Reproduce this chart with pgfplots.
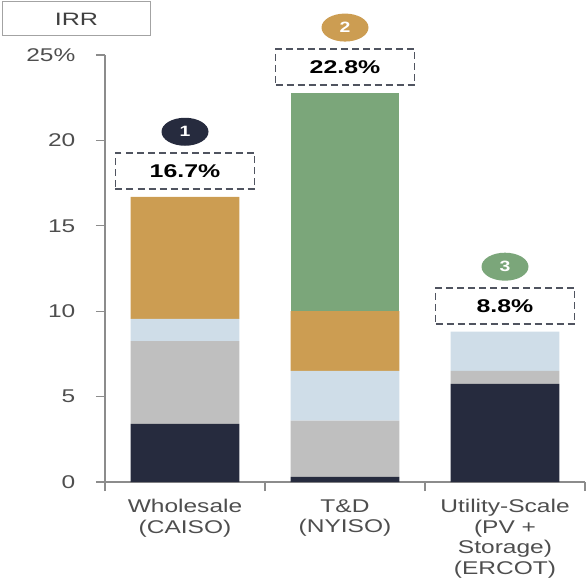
\documentclass[border=0pt]{standalone}
\usepackage{fontspec}
\setmainfont{Liberation Sans}
\usepackage{pgfplots}
\pgfplotsset{compat=1.18}
\usetikzlibrary{shapes.geometric}
\definecolor{cnavy}{HTML}{262B3E}
\definecolor{cgray}{HTML}{BFBFBF}
\definecolor{cblue}{HTML}{CFDDE8}
\definecolor{corange}{HTML}{CC9D52}
\definecolor{cgreen}{HTML}{7BA67A}
\definecolor{axiscol}{HTML}{8C8C8C}
\definecolor{labcol}{HTML}{4E4E4E}
\definecolor{dashcol}{HTML}{505460}
\pgfplotstableread{
x dark gray lblue orange green
0 3.40 4.85 1.30 7.15 0.0
1 0.30 3.30 2.90 3.50 12.8
2 5.75 0.75 2.30 0.00 0.0
}\irrdata
\begin{document}
\begin{tikzpicture}[x=1bp,y=1bp]
\useasboundingbox (-105,-100) rectangle (482,482);
\begin{axis}[
  at={(0,0)}, anchor=south west,
  scale only axis, width=480bp, height=427bp,
  ybar stacked, bar width=0.68,
  xmin=-0.5, xmax=2.5, ymin=0, ymax=25,
  axis x line*=bottom, axis y line*=left,
  axis line style={draw=axiscol, line width=1.2bp},
  ytick={0,5,10,15,20,25}, yticklabels={0,5,10,15,20,25\%},
  ytick style={draw=axiscol, line width=1.2bp},
  tick align=outside, major tick length=9bp,
  yticklabel style={font=\fontsize{18.5}{20}\selectfont, text=labcol, xscale=1.33, anchor=east, xshift=-12bp},
  xtick={-0.5,0.5,1.5,2.5}, xticklabels={},
  xtick style={draw=axiscol, line width=1.2bp},
  extra x ticks={0,1,2},
  extra x tick labels={{Wholesale\\(CAISO)},{T\&D\\(NYISO)},{Utility-Scale\\(PV +\\Storage)\\(ERCOT)}},
  extra x tick style={major tick length=0pt, xticklabel style={align=center, font=\fontsize{18.5}{20.5}\selectfont, text=labcol, xscale=1.33, anchor=north, yshift=-14bp}},
  clip=false,
  every axis plot/.append style={draw=none},
]
\addplot[fill=cnavy] table[x=x,y=dark]{\irrdata};
\addplot[fill=cgray] table[x=x,y=gray]{\irrdata};
\addplot[fill=cblue] table[x=x,y=lblue]{\irrdata};
\addplot[fill=corange] table[x=x,y=orange]{\irrdata};
\addplot[fill=cgreen] table[x=x,y=green]{\irrdata};

\tikzset{pbox/.style={draw=dashcol, dash pattern=on 7bp off 4bp, line width=1.5bp, minimum width=139bp, minimum height=36bp, inner sep=0pt, anchor=south, fill=white},
  bub/.style={ellipse, minimum width=47bp, minimum height=28bp, inner sep=0pt, text=white, font=\bfseries\fontsize{15}{15}\selectfont}}
\node[pbox, yshift=7bp] at (axis cs:0,16.7) {\scalebox{1.35}[1]{\fontsize{18.5}{18.5}\selectfont\bfseries 16.7\%}};
\node[pbox, yshift=7bp] at (axis cs:1,22.8) {\scalebox{1.35}[1]{\fontsize{18.5}{18.5}\selectfont\bfseries 22.8\%}};
\node[pbox, yshift=7bp] at (axis cs:2,8.8) {\scalebox{1.35}[1]{\fontsize{18.5}{18.5}\selectfont\bfseries 8.8\%}};
\node[bub, fill=cnavy, yshift=65bp] at (axis cs:0,16.7) {\scalebox{1.3}[1]{1}};
\node[bub, fill=corange, yshift=65bp] at (axis cs:1,22.8) {\scalebox{1.3}[1]{2}};
\node[bub, fill=cgreen, yshift=65bp] at (axis cs:2,8.8) {\scalebox{1.3}[1]{3}};
\end{axis}
\node[draw=axiscol!80, line width=1bp, minimum width=147bp, minimum height=34bp, inner sep=0pt, text=black!75] at (-28.5,463) {\scalebox{1.4}[1]{\fontsize{18}{18}\selectfont IRR}};
\end{tikzpicture}
\end{document}
